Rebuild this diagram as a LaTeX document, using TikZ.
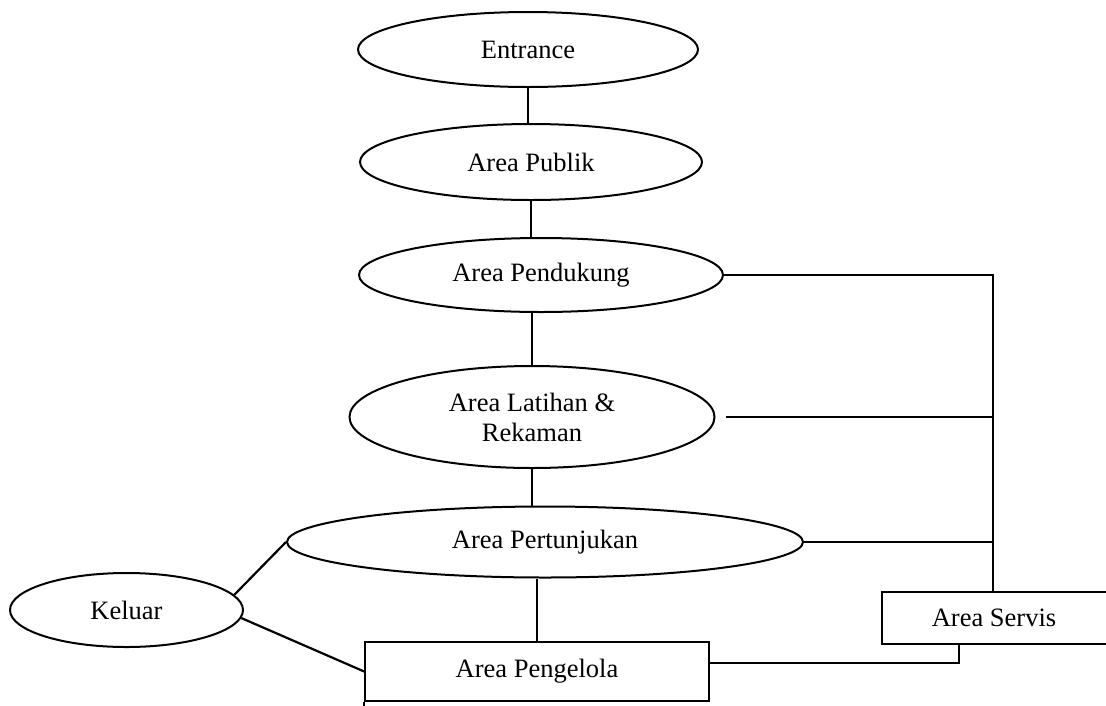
\documentclass[tikz,border=0pt]{standalone}
\usepackage{fontspec}
\setmainfont{Liberation Serif}
\usetikzlibrary{shapes.geometric,calc}
\begin{document}
\begin{tikzpicture}[x=1pt,y=-1pt,
  area/.style={ellipse,draw,line width=2pt,inner sep=0pt,align=center},
  box/.style={rectangle,draw,line width=1.7pt,inner sep=0pt},
  link/.style={line width=1.6pt},
  exitlink/.style={line width=2.2pt}]
\fontsize{26.5}{30}\selectfont
\useasboundingbox (0,0) rectangle (1106,705);

% zones (ellipses)
\node[area,minimum width=340,minimum height=75] (ent)  at (528,49.5) {Entrance};
\node[area,minimum width=342,minimum height=76] (pub)  at (531,162)  {Area Publik};
\node[area,minimum width=364,minimum height=74] (pend) at (541,275)  {Area Pendukung};
\node[area,minimum width=365,minimum height=102] (lat) at (532,417)  {Area Latihan \&\\Rekaman};
\node[area,minimum width=516,minimum height=71] (pert) at (545,542)  {Area Pertunjukan};
\node[area,minimum width=233,minimum height=74] (kel)  at (126.5,610) {Keluar};

% rooms (boxes)
\node[box,minimum width=344,minimum height=59] (peng) at (537,671.5) {Area Pengelola};
\node[box,anchor=north west,minimum height=52,inner xsep=50pt] (servis) at (881,591)
     {\makebox[140pt][l]{Area Servis}};
\draw[box] (peng.south west) -- ++(0,5);

% vertical flow
\draw[link] (ent.south) -- (ent.south |- pub.north);
\draw[link] (pub.south) -- (pub.south |- pend.north);
\draw[link] (lat.north) -- (lat.north |- pend.south);
\draw[link] (lat.south) -- (lat.south |- pert.north);
\draw[link] (peng.north) -- (peng.north |- pert.south);

% exit links
\draw[exitlink] (kel.8) -- (pert.west);
\draw[exitlink] (kel.-4) -- (peng.west);

% service bus
\coordinate (bus) at (993,273);
\draw[link] (pend.east) -- (pend.east -| bus) -- (bus |- servis.north);
\draw[link] ([xshift=10pt]lat.east) -- (lat.east -| bus);
\draw[link] (pert.east) -- (pert.east -| bus);
\draw[link] ($(peng.north east)!0.36!(peng.south east)$) -| ([xshift=78pt]servis.south west);
\end{tikzpicture}
\end{document}
